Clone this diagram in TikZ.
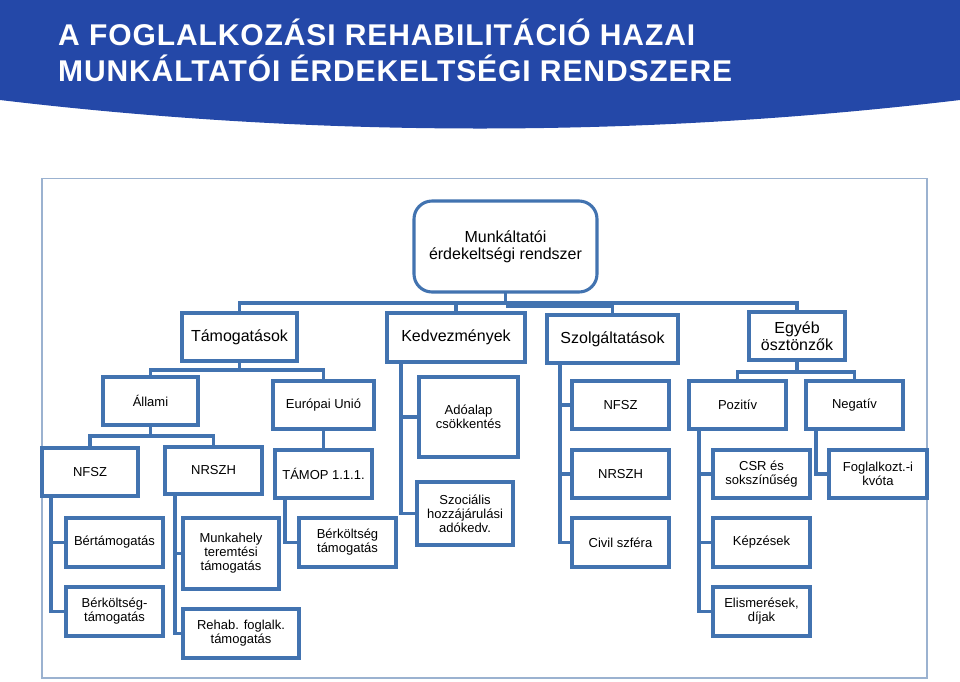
\documentclass[tikz,border=0pt]{standalone}
\usepackage{fontspec}
\setmainfont{Liberation Sans}
\newfontfamily\ttlfont[LetterSpace=3]{Liberation Sans}
\usetikzlibrary{calc}
\pgfdeclarelayer{bg}
\pgfdeclarelayer{paper}
\pgfsetlayers{paper,bg,main}
\definecolor{hdr}{RGB}{36,72,168}
\definecolor{bline}{RGB}{66,115,176}
\definecolor{frm}{RGB}{155,178,208}
\tikzset{
 bx/.style={draw=bline, line width=3.1pt, fill=white, inner sep=1pt, outer sep=0pt, align=center, font=\fontsize{13}{14}\selectfont, text=black},
 bigbx/.style={bx, font=\fontsize{16}{17}\selectfont},
 conn/.style={draw=bline, line width=3.1pt},
 ttl/.style={anchor=base west, inner sep=0pt, text=white, font=\ttlfont\fontsize{30}{32}\selectfont\bfseries},
}
\begin{document}
\begin{tikzpicture}[x=1pt,y=-1pt]
\useasboundingbox (0,0) rectangle (960,681);
\begin{pgfonlayer}{paper}
\fill[white] (0,0) rectangle (960,681);
% header
\fill[hdr] (0,0) -- (960,0) -- (960,100) .. controls (640,138) and (320,138) .. (0,100) -- cycle;
% frame
\draw[frm, line width=1.3pt] (42,178.5) rectangle (927,678);
\end{pgfonlayer}
\node[ttl] (t1) at (58,45.7) {A FOGLALKOZÁSI REHABILITÁCIÓ HAZAI};
\node[ttl] (t2) at (58,81.7) {MUNKÁLTATÓI ÉRDEKELTSÉGI RENDSZERE};
% nodes
\node[bigbx, rounded corners=18pt, minimum width=183pt, minimum height=91pt] (root) at (505.5,246.5) {Munkáltatói\\érdekeltségi rendszer};
\node[bigbx, minimum width=115pt, minimum height=48pt] (tam) at (239.5,337) {Támogatások};
\node[bigbx, minimum width=138pt, minimum height=49pt] (ked) at (456,337.5) {Kedvezmények};
\node[bigbx, minimum width=131pt, minimum height=48pt] (szo) at (612.5,339) {Szolgáltatások};
\node[bigbx, minimum width=96pt, minimum height=48pt] (egy) at (797,336) {Egyéb\\ösztönzők};
\node[bx, minimum width=95pt, minimum height=48pt] (all) at (150.5,401) {Állami};
\node[bx, minimum width=101pt, minimum height=48pt] (eu) at (323.5,405) {Európai Unió};
\node[bx, minimum width=99pt, minimum height=80pt] (ado) at (468.5,417) {Adóalap\\csökkentés};
\node[bx, minimum width=97pt, minimum height=48pt] (nfszR) at (620.5,405) {NFSZ};
\node[bx, minimum width=97pt, minimum height=48pt] (poz) at (737.5,405) {Pozitív};
\node[bx, minimum width=97pt, minimum height=48pt] (neg) at (854.5,405) {Negatív};
\node[bx, minimum width=96pt, minimum height=48pt] (nfszL) at (90,472) {NFSZ};
\node[bx, minimum width=97pt, minimum height=47pt] (nrszhL) at (213.5,470.5) {NRSZH};
\node[bx, minimum width=97pt, minimum height=48pt] (tamop) at (323.5,474) {TÁMOP 1.1.1.};
\node[bx, minimum width=96pt, minimum height=63pt] (szoc) at (465,513.5) {Szociális\\hozzájárulási\\adókedv.};
\node[bx, minimum width=97pt, minimum height=48pt] (nrszhR) at (620.5,474) {NRSZH};
\node[bx, minimum width=97pt, minimum height=48pt] (csr) at (761.5,474) {CSR és\\sokszínűség};
\node[bx, minimum width=98pt, minimum height=48pt] (kvota) at (878,474) {Foglalkozt.-i\\kvóta};
\node[bx, minimum width=97pt, minimum height=49pt] (bert) at (114.5,542.5) {Bértámogatás};
\node[bx, minimum width=96pt, minimum height=71pt] (munk) at (231,553.5) {Munkahely\\teremtési\\támogatás};
\node[bx, minimum width=97pt, minimum height=49pt] (berk2) at (347.5,542.5) {Bérköltség\\támogatás};
\node[bx, minimum width=97pt, minimum height=49pt] (civil) at (620.5,542.5) {Civil szféra};
\node[bx, minimum width=97pt, minimum height=49pt] (kepz) at (761.5,542.5) {Képzések};
\node[bx, minimum width=97pt, minimum height=49pt] (berk1) at (114.5,611.5) {Bérköltség-\\támogatás};
\node[bx, minimum width=116pt, minimum height=49pt] (rehab) at (241,633.5) {Rehab. foglalk.\\támogatás};
\node[bx, minimum width=97pt, minimum height=49pt] (elism) at (761.5,611.5) {Elismerések,\\díjak};
% connectors
\begin{pgfonlayer}{bg}
\coordinate (j1) at ($(root.south)+(0,11)$);
\draw[conn] (root.south) -- (j1);
\draw[conn] (tam.north) |- (j1) -| (egy.north);
\draw[conn] (j1) -| (ked.north);
\draw[conn] ([yshift=-3pt]j1) -| (szo.north);
\coordinate (j2) at ($(tam.south)+(0,9)$);
\draw[conn] (tam.south) -- (j2);
\draw[conn] (all.north) |- (j2) -| (eu.north);
\draw[conn] ([xshift=14pt]ked.south west) |- (szoc.west);
\draw[conn] ([xshift=14pt]ked.south west |- ado.west) -- (ado.west);
\draw[conn] ([xshift=13pt]szo.south west) |- (civil.west);
\draw[conn] ([xshift=13pt]szo.south west |- nfszR.west) -- (nfszR.west);
\draw[conn] ([xshift=13pt]szo.south west |- nrszhR.west) -- (nrszhR.west);
\coordinate (j5) at ($(egy.south)+(0,12)$);
\draw[conn] (egy.south) -- (j5);
\draw[conn] (poz.north) |- (j5) -| (neg.north);
\draw[conn] ([xshift=10pt]poz.south west) |- (elism.west);
\draw[conn] ([xshift=10pt]poz.south west |- csr.west) -- (csr.west);
\draw[conn] ([xshift=10pt]poz.south west |- kepz.west) -- (kepz.west);
\draw[conn] ([xshift=10pt]neg.south west) |- (kvota.west);
\coordinate (j8) at ($(all.south)+(0,11)$);
\draw[conn] (all.south) -- (j8);
\draw[conn] (nfszL.north) |- (j8) -| (nrszhL.north);
\draw[conn] (eu.south) -- (tamop.north);
\draw[conn] ([xshift=9pt]nfszL.south west) |- (berk1.west);
\draw[conn] ([xshift=9pt]nfszL.south west |- bert.west) -- (bert.west);
\draw[conn] ([xshift=10pt]nrszhL.south west) |- (rehab.west);
\draw[conn] ([xshift=10pt]nrszhL.south west |- munk.west) -- (munk.west);
\draw[conn] ([xshift=10pt]tamop.south west) |- (berk2.west);
\end{pgfonlayer}
\end{tikzpicture}
\end{document}
